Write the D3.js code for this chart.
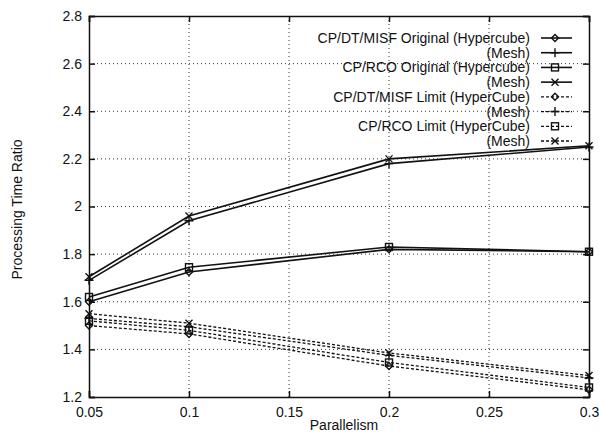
<!DOCTYPE html>
<html>
<head>
<meta charset="utf-8">
<script src="https://cdn.jsdelivr.net/npm/d3@7"></script>
<style>
body { margin: 0; background: #fff; }
text { font-family: "Liberation Sans", Arial, sans-serif; font-size: 14px; fill: #111; }
</style>
</head>
<body>
<svg id="chart" width="599" height="432"></svg>
<script>
// values
const parallelism = [0.05, 0.1, 0.2, 0.3]
const xTicks = [0.05, 0.1, 0.15, 0.2, 0.25, 0.3]
const yTicks = [1.2, 1.4, 1.6, 1.8, 2, 2.2, 2.4, 2.6, 2.8]

const dtOrigHyper = [1.60, 1.725, 1.82, 1.81]
const dtOrigMesh = [1.69, 1.94, 2.18, 2.25]
const rcoOrigHyper = [1.62, 1.745, 1.83, 1.81]
const rcoOrigMesh = [1.705, 1.96, 2.20, 2.255]
const dtLimHyper = [1.50, 1.465, 1.33, 1.23]
const dtLimMesh = [1.53, 1.495, 1.375, 1.28]
const rcoLimHyper = [1.52, 1.48, 1.345, 1.24]
const rcoLimMesh = [1.55, 1.51, 1.385, 1.29]

const labels = ["CP/DT/MISF Original (Hypercube)", "(Mesh)", "CP/RCO Original (Hypercube)", "(Mesh)",
	"CP/DT/MISF Limit (HyperCube)", "(Mesh)", "CP/RCO Limit (HyperCube)", "(Mesh)"]
const values = [dtOrigHyper, dtOrigMesh, rcoOrigHyper, rcoOrigMesh, dtLimHyper, dtLimMesh, rcoLimHyper, rcoLimMesh]
const markers = ["diamond", "plus", "square", "cross", "diamond", "plus", "square", "cross"]
const dashed = [false, false, false, false, true, true, true, true]

const svg = d3.select("#chart")
const pLeft = 89, pRight = 589, pTop = 16, pBottom = 397

let x = d3.scaleLinear().domain([0.05, 0.3]).range([pLeft, pRight])
let y = d3.scaleLinear().domain([1.2, 2.8]).range([pBottom, pTop])

// grid
svg.append("g").selectAll("line")
	.data(xTicks.slice(1, -1))
	.enter().append("line")
	.attr("x1", d => x(d)).attr("x2", d => x(d))
	.attr("y1", pTop).attr("y2", pBottom)
	.attr("stroke", "#333").attr("stroke-width", 1)
	.style("stroke-dasharray", "1,3")

svg.append("g").selectAll("line")
	.data(yTicks.slice(1, -1))
	.enter().append("line")
	.attr("x1", pLeft).attr("x2", pRight)
	.attr("y1", d => y(d)).attr("y2", d => y(d))
	.attr("stroke", "#333").attr("stroke-width", 1)
	.style("stroke-dasharray", "1,3")

// axes with inward ticks on all four sides
let tickFmt = d => String(+d.toFixed(2))
svg.append("g")
	.attr("transform", "translate(0," + pBottom + ")")
	.call(d3.axisBottom(x).tickValues(xTicks).tickSize(-6).tickPadding(10).tickFormat(tickFmt))
svg.append("g")
	.attr("transform", "translate(0," + pTop + ")")
	.call(d3.axisTop(x).tickValues(xTicks).tickSize(-6).tickFormat(""))
svg.append("g")
	.attr("transform", "translate(" + pLeft + ",0)")
	.call(d3.axisLeft(y).tickValues(yTicks).tickSize(-6).tickPadding(7).tickFormat(tickFmt))
svg.append("g")
	.attr("transform", "translate(" + pRight + ",0)")
	.call(d3.axisRight(y).tickValues(yTicks).tickSize(-6).tickFormat(""))

svg.selectAll(".domain").attr("stroke", "#111").attr("stroke-width", 1.5)
svg.selectAll(".tick line").attr("stroke", "#111").attr("stroke-width", 1.5)
svg.selectAll(".tick text").style("font-size", "14px").attr("fill", "#111")

svg.append("text")
	.attr("x", (pLeft + pRight) / 2 + 5).attr("y", 430)
	.attr("text-anchor", "middle")
	.text("Parallelism")

svg.append("text")
	.attr("transform", "translate(22," + ((pTop + pBottom) / 2 + 3) + ") rotate(-90)")
	.attr("text-anchor", "middle")
	.text("Processing Time Ratio")

function marker(g, type, cx, cy) {
	let s = 3.5
	if (type == "diamond") {
		g.append("path")
			.attr("d", `M${cx},${cy - s}L${cx + s},${cy}L${cx},${cy + s}L${cx - s},${cy}Z`)
			.attr("fill", "none").attr("stroke", "#111").attr("stroke-width", 1.4)
	} else if (type == "square") {
		g.append("rect")
			.attr("x", cx - s).attr("y", cy - s).attr("width", 2 * s).attr("height", 2 * s)
			.attr("fill", "none").attr("stroke", "#111").attr("stroke-width", 1.4)
	} else if (type == "plus") {
		g.append("path")
			.attr("d", `M${cx - s - 1},${cy}H${cx + s + 1}M${cx},${cy - s - 1}V${cy + s + 1}`)
			.attr("stroke", "#111").attr("stroke-width", 1.4)
	} else {
		g.append("path")
			.attr("d", `M${cx - s},${cy - s}L${cx + s},${cy + s}M${cx - s},${cy + s}L${cx + s},${cy - s}`)
			.attr("stroke", "#111").attr("stroke-width", 1.4)
	}
}

let line = d3.line()
	.x((d, i) => x(parallelism[i]))
	.y(d => y(d))

// series
for (var i = 0; i < values.length; i++) {
	var g = svg.append("g")
	g.append("path")
		.datum(values[i])
		.attr("d", line)
		.attr("fill", "none")
		.attr("stroke", "#111")
		.attr("stroke-width", dashed[i] ? 1.3 : 1.6)
		.style("stroke-dasharray", dashed[i] ? "3,2" : null)
	for (var j = 0; j < parallelism.length; j++) {
		marker(g, markers[i], x(parallelism[j]), y(values[i][j]))
	}
}

// legend
let legendY = d3.scaleLinear().domain([0, 7]).range([38, 141])
for (var i = 0; i < labels.length; i++) {
	var ly = legendY(i)
	svg.append("text")
		.attr("x", 530).attr("y", ly + 5)
		.attr("text-anchor", "end")
		.text(labels[i])
	var g = svg.append("g")
	g.append("line")
		.attr("x1", 541).attr("x2", 572)
		.attr("y1", ly).attr("y2", ly)
		.attr("stroke", "#111")
		.attr("stroke-width", dashed[i] ? 1.3 : 1.6)
		.style("stroke-dasharray", dashed[i] ? "3,2" : null)
	marker(g, markers[i], 555, ly)
}
</script>
</body>
</html>
